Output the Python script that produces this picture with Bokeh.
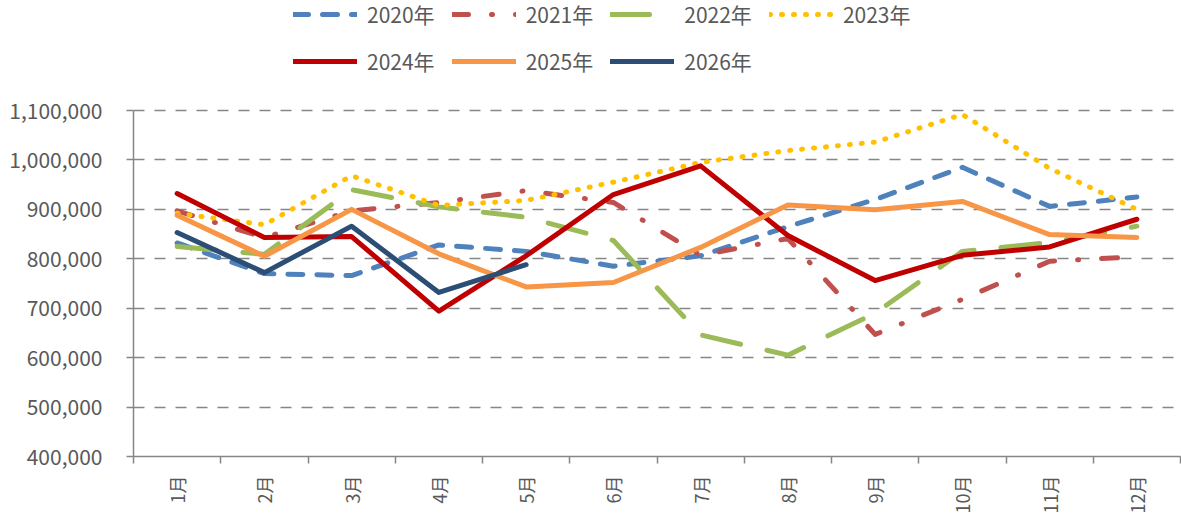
import math
from bokeh.plotting import figure
from bokeh.models import (Range1d, FixedTicker, NumeralTickFormatter, Legend, LegendItem)
from bokeh.embed import file_html
from bokeh.resources import INLINE

months = ["1月", "2月", "3月", "4月", "5月", "6月", "7月", "8月", "9月", "10月", "11月", "12月"]
y_ticks = [400000, 500000, 600000, 700000, 800000, 900000, 1000000, 1100000]

s2020 = [832000, 770000, 766000, 828000, 815000, 785000, 806000, 865000, 920000, 985000, 906000, 925000]
s2021 = [897000, 843000, 897000, 914000, 938000, 914000, 807000, 841000, 647000, 718000, 795000, 804000]
s2022 = [825000, 809000, 940000, 905000, 884000, 837000, 646000, 605000, 690000, 815000, 833000, 866000]
s2023 = [892000, 869000, 968000, 908000, 918000, 955000, 995000, 1019000, 1036000, 1092000, 983000, 900000]
s2024 = [932000, 843000, 845000, 694000, 806000, 930000, 988000, 847000, 756000, 807000, 824000, 880000]
s2025 = [888000, 805000, 900000, 810000, 743000, 752000, 823000, 909000, 899000, 916000, 849000, 843000]
s2026 = [853000, 772000, 866000, 732000, 788000]

series_names = ["2020年", "2021年", "2022年", "2023年", "2024年", "2025年", "2026年"]
series_vals = [s2020, s2021, s2022, s2023, s2024, s2025, s2026]
colors = ["#4F81BD", "#C0504D", "#9BBB59", "#FFC000", "#C00000", "#F79646", "#2C4D75"]
dashes = ["15 14", "16 23 1 23", "39 27", "1 11", "solid", "solid", "solid"]

FONT = "Noto Sans CJK SC"
GREY = "#868686"
TXT = "#595959"

W, H = 1181, 520
LEFT, RIGHT, BOTTOM = 133, 1, 64
AXIS_TOP_PX = 110            # pixel row of the top tick inside the figure
frame_h = H - BOTTOM         # frame spans from figure top to the x axis
ymin, ymax = y_ticks[0], y_ticks[-1]
span_px = frame_h - AXIS_TOP_PX
y_top = ymin + (ymax - ymin) * frame_h / span_px

xc = [i + 0.5 for i in range(len(months))]

p = figure(width=W, height=H, output_backend="svg", toolbar_location=None,
           x_range=Range1d(0, 12), y_range=Range1d(ymin, y_top),
           min_border_left=LEFT, min_border_right=RIGHT, min_border_bottom=BOTTOM,
           min_border_top=0)
p.outline_line_color = None
p.xgrid.grid_line_color = None
p.ygrid.grid_line_color = GREY
p.ygrid.grid_line_width = 1.5
p.ygrid.grid_line_dash = "11 10"

# x axis
p.xaxis.ticker = FixedTicker(ticks=xc, minor_ticks=list(range(0, 13)))
p.xaxis.major_label_overrides = {x: m for x, m in zip(xc, months)}
p.xaxis.major_tick_out = 0
p.xaxis.major_tick_in = 0
p.xaxis.minor_tick_out = 7
p.xaxis.minor_tick_in = 0
p.xaxis.minor_tick_line_color = GREY
p.xaxis.minor_tick_line_width = 1.5
p.xaxis.axis_line_color = GREY
p.xaxis.axis_line_width = 1.5
p.xaxis.axis_label_standoff = 0
p.xaxis.major_label_orientation = math.pi / 2
p.xaxis.major_label_standoff = 12
p.xaxis.major_label_text_font = FONT
p.xaxis.major_label_text_font_size = "18px"
p.xaxis.major_label_text_color = TXT

# y axis
p.yaxis.ticker = FixedTicker(ticks=y_ticks)
p.yaxis.bounds = (ymin, ymax)
p.yaxis.formatter = NumeralTickFormatter(format="0,0")
p.yaxis.major_tick_out = 7
p.yaxis.major_tick_in = 0
p.yaxis.minor_tick_line_color = None
p.yaxis.major_tick_line_color = GREY
p.yaxis.major_tick_line_width = 1.5
p.yaxis.axis_line_color = GREY
p.yaxis.axis_line_width = 1.5
p.yaxis.major_label_standoff = 24
p.yaxis.major_label_text_font = FONT
p.yaxis.major_label_text_font_size = "21px"
p.yaxis.major_label_text_color = TXT

items = []
for name, vals, col, dash in zip(series_names, series_vals, colors, dashes):
    r = p.line(xc[:len(vals)], vals, line_color=col, line_width=5,
               line_dash=dash, line_cap="round", line_join="round")
    items.append(LegendItem(label=name, renderers=[r]))

legend = Legend(items=items, orientation="horizontal", ncols=4,
                location=(160, frame_h - 76), spacing=17, padding=0, margin=0,
                glyph_width=64, glyph_height=24, label_height=24,
                label_standoff=10, border_line_color=None,
                background_fill_alpha=0,
                label_text_font=FONT, label_text_font_size="21px",
                label_text_color=TXT)
p.add_layout(legend)

open("out.html", "w").write(file_html(p, INLINE))
